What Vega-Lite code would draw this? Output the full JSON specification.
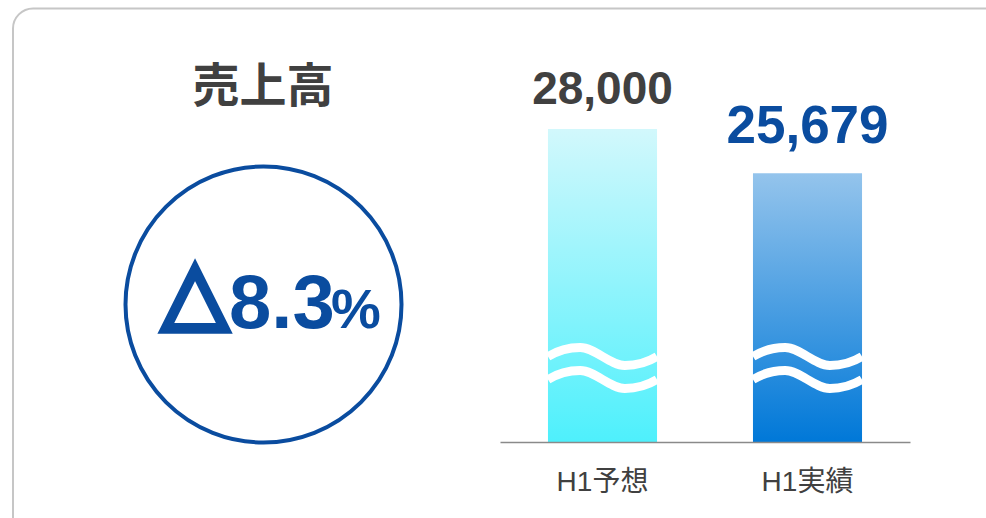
{
  "$schema": "https://vega.github.io/schema/vega-lite/v6.json",
  "width": 986,
  "height": 518,
  "autosize": "none",
  "padding": 0,
  "background": "white",
  "config": {"view": {"stroke": null}, "font": "Liberation Sans, Noto Sans CJK JP"},
  "datasets": {
    "sales": [
      {"label": "H1予想", "value": 28000},
      {"label": "H1実績", "value": 25679}
    ],
    "kpi": [{"metric": "売上高", "change": 8.3}]
  },
  "layer": [
    {
      "data": {"name": "kpi"},
      "mark": {"type": "rect", "cornerRadius": 20, "fill": null, "fillOpacity": 0, "stroke": "#c6c6c6", "strokeWidth": 2},
      "encoding": {"x": {"value": 13}, "x2": {"value": 1010}, "y": {"value": 8.5}, "y2": {"value": 540}}
    },
    {
      "data": {"name": "kpi"},
      "mark": {"type": "text", "fontSize": 47, "fontWeight": "bold", "color": "#404040", "font": "Noto Sans CJK JP", "baseline": "middle", "align": "center"},
      "encoding": {"x": {"value": 263}, "y": {"value": 88}, "text": {"field": "metric"}}
    },
    {
      "data": {"name": "kpi"},
      "mark": {"type": "point", "shape": "circle", "size": 76176, "filled": false, "stroke": "#0a4c9f", "strokeWidth": 4, "opacity": 1},
      "encoding": {"x": {"value": 263.5}, "y": {"value": 304.5}}
    },
    {
      "data": {"name": "kpi"},
      "mark": {"type": "text", "text": "△", "font": "DejaVu Sans", "fontSize": 86, "color": "#0a4c9f", "stroke": "#0a4c9f", "strokeWidth": 6, "align": "center", "baseline": "alphabetic"},
      "encoding": {"x": {"value": 195}, "y": {"value": 320}}
    },
    {
      "data": {"name": "kpi"},
      "mark": {"type": "text", "font": "Liberation Sans", "fontSize": 76, "fontWeight": "bold", "color": "#0a4c9f", "align": "left", "baseline": "alphabetic"},
      "encoding": {"x": {"value": 229}, "y": {"value": 328}, "text": {"field": "change", "type": "quantitative", "format": ".1f"}}
    },
    {
      "data": {"name": "kpi"},
      "mark": {"type": "text", "text": "%", "font": "Liberation Sans", "fontSize": 56, "fontWeight": "bold", "color": "#0a4c9f", "align": "left", "baseline": "alphabetic"},
      "encoding": {"x": {"value": 331}, "y": {"value": 328}}
    },
    {
      "data": {"name": "sales"},
      "transform": [{"filter": "datum.label === 'H1予想'"}],
      "mark": {"type": "bar", "fill": {"gradient": "linear", "x1": 0, "y1": 0, "x2": 0, "y2": 1, "stops": [{"offset": 0, "color": "#d2f8fc"}, {"offset": 1, "color": "#4ef0fc"}]}},
      "encoding": {
        "x": {
          "field": "label", "type": "nominal",
          "scale": {"domain": ["H1予想", "H1実績"], "range": [500, 910], "paddingInner": 0.468, "paddingOuter": 0.234},
          "axis": {"title": null, "orient": "bottom", "offset": -76, "zindex": 1, "ticks": false, "grid": false, "domainColor": "#8a8a8a", "domainWidth": 1.5, "labelFontSize": 28, "labelColor": "#404040", "labelFont": "Liberation Sans, Noto Sans CJK JP", "labelPadding": 48, "labelBaseline": "alphabetic", "labelAngle": 0}
        },
        "y": {"field": "value", "type": "quantitative", "scale": {"domain": [11601, 34758], "range": [442, 0], "zero": false, "nice": false}, "axis": null},
        "y2": {"datum": 11601}
      }
    },
    {
      "data": {"name": "sales"},
      "transform": [{"filter": "datum.label === 'H1実績'"}],
      "mark": {"type": "bar", "fill": {"gradient": "linear", "x1": 0, "y1": 0, "x2": 0, "y2": 1, "stops": [{"offset": 0, "color": "#94c4ec"}, {"offset": 1, "color": "#0078d8"}]}},
      "encoding": {
        "x": {"field": "label", "type": "nominal"},
        "y": {"field": "value", "type": "quantitative"},
        "y2": {"datum": 11601}
      }
    },
    {
      "data": {"name": "sales"},
      "mark": {"type": "point", "shape": "M -1 -0.211 C -0.82 -0.32 -0.62 -0.376 -0.41 -0.376 C -0.14 -0.376 0.14 -0.046 0.41 -0.046 C 0.62 -0.046 0.82 -0.10 1 -0.211 M -1 0.211 C -0.82 0.10 -0.62 0.046 -0.41 0.046 C -0.14 0.046 0.14 0.376 0.41 0.376 C 0.62 0.376 0.82 0.32 1 0.211", "size": 11881, "filled": false, "stroke": "white", "strokeWidth": 9, "opacity": 1},
      "encoding": {
        "x": {"field": "label", "type": "nominal"},
        "y": {"datum": 15478, "type": "quantitative"}
      }
    },
    {
      "data": {"name": "sales"},
      "transform": [{"filter": "datum.label === 'H1予想'"}],
      "mark": {"type": "text", "font": "Liberation Sans", "fontSize": 46, "fontWeight": "bold", "color": "#404040", "align": "center", "baseline": "alphabetic", "dy": -25},
      "encoding": {
        "x": {"field": "label", "type": "nominal"},
        "y": {"field": "value", "type": "quantitative"},
        "text": {"field": "value", "type": "quantitative", "format": ",d"}
      }
    },
    {
      "data": {"name": "sales"},
      "transform": [{"filter": "datum.label === 'H1実績'"}],
      "mark": {"type": "text", "font": "Liberation Sans", "fontSize": 53, "fontWeight": "bold", "color": "#0a4c9f", "align": "center", "baseline": "alphabetic", "dy": -30},
      "encoding": {
        "x": {"field": "label", "type": "nominal"},
        "y": {"field": "value", "type": "quantitative"},
        "text": {"field": "value", "type": "quantitative", "format": ",d"}
      }
    }
  ]
}
